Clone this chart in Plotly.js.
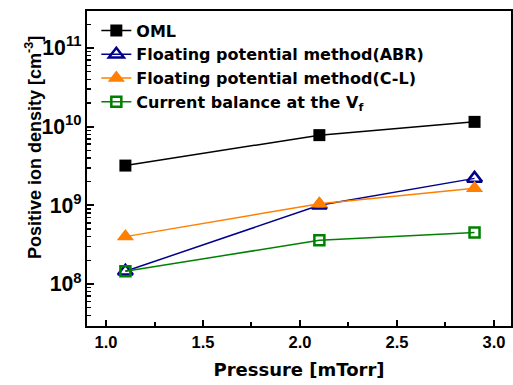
<!DOCTYPE html>
<html><head><meta charset="utf-8">
<script src="https://cdn.plot.ly/plotly-3.0.1.min.js"></script>
<style>body{margin:0;padding:0;background:#fff}#chart{width:513px;height:385px}</style>
</head><body><div id="chart"></div>
<script>
var pressure = [1.1, 2.1, 2.9];
var oml = [3.2e9, 7.8e9, 1.15e10];
var abr = [1.45e8, 1.0e9, 2.2e9];
var cl = [4.0e8, 1.05e9, 1.65e9];
var cb = [1.45e8, 3.6e8, 4.5e8];
var names = ['OML', 'Floating potential method(ABR)', 'Floating potential method(C-L)', 'Current balance at the V<sub>f</sub>'];
var xTitle = 'Pressure [mTorr]';
var yTitle = 'Positive ion density [cm<sup>-3</sup>]';

var traces = [
  {x: pressure, y: oml, name: names[0], mode: 'lines+markers', line: {color: '#000', width: 1.5},
   marker: {symbol: 'square', size: 12, color: '#000'}},
  {x: pressure, y: abr, name: names[1], mode: 'lines+markers', line: {color: '#00008b', width: 1.5},
   marker: {symbol: 'triangle-up-open', size: 13, color: '#00008b', line: {width: 2.5}}},
  {x: pressure, y: cl, name: names[2], mode: 'lines+markers', line: {color: '#ff8000', width: 1.5},
   marker: {symbol: 'triangle-up', size: 15, color: '#ff8000'}},
  {x: pressure, y: cb, name: names[3], mode: 'lines+markers', line: {color: '#008000', width: 1.5},
   marker: {symbol: 'square-open', size: 10, color: '#008000', line: {width: 2.5}}}
];

var lib = {family: 'Liberation Sans, Arial, sans-serif', color: '#000', weight: 'bold'};
var dej = {family: 'DejaVu Sans, sans-serif', color: '#000', weight: 'bold'};
var layout = {
  width: 513, height: 385,
  margin: {l: 87, r: 2, t: 11, b: 59},
  paper_bgcolor: '#fff', plot_bgcolor: '#fff',
  showlegend: true,
  legend: {x: 0.022, y: 0.992, xanchor: 'left', yanchor: 'top', bgcolor: 'rgba(0,0,0,0)',
    font: Object.assign({}, dej, {size: 16}), tracegroupgap: 0, itemwidth: 30},
  xaxis: {
    range: [0.902, 3.088], dtick: 0.5, tick0: 0, tickformat: '.1f',
    ticks: 'inside', ticklen: 6, tickwidth: 2, tickcolor: '#000',
    minor: {dtick: 0.25, ticks: 'inside', ticklen: 4, tickwidth: 2, tickcolor: '#000', showgrid: false},
    showline: true, linewidth: 2, linecolor: '#000', mirror: true, showgrid: false, zeroline: false,
    tickfont: Object.assign({}, lib, {size: 16.5}),
    title: {text: xTitle, font: Object.assign({}, dej, {size: 18}), standoff: 14}
  },
  yaxis: {
    type: 'log', range: [7.466, 11.47], dtick: 1, exponentformat: 'power',
    ticks: 'inside', ticklen: 7, tickwidth: 2, tickcolor: '#000',
    minor: {dtick: 'D1', ticks: 'inside', ticklen: 4, tickwidth: 1.5, tickcolor: '#000', showgrid: false},
    showline: true, linewidth: 2, linecolor: '#000', mirror: true, showgrid: false, zeroline: false,
    tickfont: Object.assign({}, lib, {size: 17})
  },
  annotations: [{
    text: yTitle, textangle: -90, showarrow: false,
    xref: 'paper', yref: 'paper', x: (33 - 87) / 424, y: (326 - 148) / 315,
    xanchor: 'center', yanchor: 'middle',
    font: Object.assign({}, lib, {size: 18})
  }]
};
Plotly.newPlot('chart', traces, layout, {staticPlot: true, displayModeBar: false});
</script></body></html>
